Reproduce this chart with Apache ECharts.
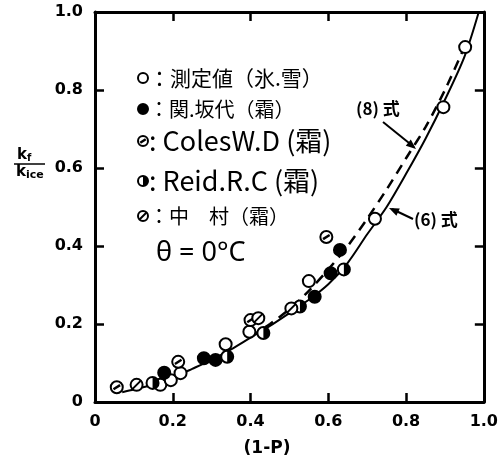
<!DOCTYPE html>
<html>
<head>
<meta charset="utf-8">
<script src="https://cdn.jsdelivr.net/npm/echarts@6/dist/echarts.min.js"></script>
<style>
  html, body { margin: 0; padding: 0; background: #fff; }
  #chart { width: 501px; height: 462px; }
</style>
</head>
<body>
<div id="chart"></div>
<script>
// 測定値 (氷.雪) - open circles
const measured = [[0.168, 0.044], [0.195, 0.056], [0.22, 0.074], [0.336, 0.148], [0.397, 0.18], [0.55, 0.31], [0.72, 0.47], [0.896, 0.756], [0.952, 0.91]]
// 関.坂代 (霜) - filled
const sekiSaka = [[0.178, 0.075], [0.28, 0.112], [0.31, 0.108], [0.565, 0.27], [0.606, 0.33], [0.63, 0.39]]
// Coles W.D (霜)
const coles = [[0.056, 0.038], [0.214, 0.103], [0.4, 0.21], [0.595, 0.423]]
// Reid R.C (霜)
const reid = [[0.148, 0.049], [0.34, 0.116], [0.433, 0.177], [0.527, 0.245], [0.64, 0.34]]
// 中村 (霜)
const nakamura = [[0.107, 0.044], [0.42, 0.215], [0.505, 0.24]]
// (6)式 solid curve
const eq6 = [[0.07, 0.025], [0.1, 0.032], [0.15, 0.045], [0.2, 0.063], [0.25, 0.085], [0.3, 0.108], [0.35, 0.135], [0.4, 0.165], [0.45, 0.195], [0.5, 0.228], [0.55, 0.262], [0.6, 0.302], [0.65, 0.357], [0.7, 0.43], [0.75, 0.5], [0.8, 0.585], [0.85, 0.675], [0.9, 0.775], [0.95, 0.885], [0.987, 1.0]]
// (8)式 dashed curve
const eq8 = [[0.4, 0.168], [0.45, 0.2], [0.5, 0.238], [0.55, 0.285], [0.6, 0.34], [0.65, 0.4], [0.7, 0.47], [0.75, 0.545], [0.8, 0.625], [0.85, 0.705], [0.9, 0.8], [0.95, 0.91]]
const xTicks = [0, 0.2, 0.4, 0.6, 0.8, 1.0]
const yTicks = [0, 0.2, 0.4, 0.6, 0.8, 1.0]

const chart = echarts.init(document.getElementById('chart'))

// 記号の形 (白丸, 黒丸, 斜線, 半黒, 斜線大)
function markerChildren (kind, cx, cy, r) {
  const out = [{
    type: 'circle',
    shape: { cx: cx, cy: cy, r: r },
    style: { fill: kind === 'filled' ? '#000' : '#fff', stroke: '#000', lineWidth: 2 }
  }]
  if (kind === 'coles') {
    out.push({ type: 'line', shape: { x1: cx - r * 0.55, y1: cy + r * 0.35, x2: cx + r * 0.55, y2: cy - r * 0.35 }, style: { stroke: '#000', lineWidth: 2.5 } })
  } else if (kind === 'nakamura') {
    out.push({ type: 'line', shape: { x1: cx - r * 0.75, y1: cy + r * 0.75, x2: cx + r * 0.75, y2: cy - r * 0.75 }, style: { stroke: '#000', lineWidth: 2 } })
  } else if (kind === 'reid') {
    out.push({ type: 'sector', shape: { cx: cx, cy: cy, r0: 0, r: r, startAngle: -Math.PI / 2, endAngle: Math.PI / 2 }, style: { fill: '#000' } })
  }
  return out
}

function pointSeries (name, data, kind) {
  return {
    name: name,
    type: 'custom',
    coordinateSystem: 'cartesian2d',
    encode: { x: 0, y: 1 },
    z: 5,
    data: data,
    renderItem: function (params, api) {
      const p = api.coord([api.value(0), api.value(1)])
      return { type: 'group', children: markerChildren(kind, p[0], p[1], 6) }
    }
  }
}

const tickLabel = function (v) { return v === 0 ? '0' : v.toFixed(1) }
const lblStyle = { color: '#000', fontSize: 16, fontWeight: 'bold', fontFamily: 'DejaVu Sans' }
const lineBlack = { color: '#000', width: 3 }

// 凡例
const legendRows = [
  { kind: 'open', y: 78, text: '：測定値（氷.雪）', font: 'Noto Sans CJK JP', size: 21 },
  { kind: 'filled', y: 109, text: '：関.坂代（霜）', font: 'Noto Sans CJK JP', size: 20 },
  { kind: 'coles', y: 141, text: ': ColesW.D (霜)', font: 'Noto Sans CJK JP', size: 27 },
  { kind: 'reid', y: 181, text: ': Reid.R.C (霜)', font: 'Noto Sans CJK JP', size: 27 },
  { kind: 'nakamura', y: 216, text: '：中　村（霜）', font: 'Noto Sans CJK JP', size: 20 }
]
const graphics = []
legendRows.forEach(function (row) {
  graphics.push({ type: 'group', children: markerChildren(row.kind, 143, row.y, 5) })
  graphics.push({
    type: 'text', x: 149, y: row.y,
    style: { text: row.text, fill: '#000', font: row.size + 'px "' + row.font + '"', verticalAlign: 'middle' }
  })
})
graphics.push({ type: 'text', x: 156, y: 253, style: { text: 'θ = 0°C', fill: '#000', font: '27px "Noto Sans"', verticalAlign: 'middle' } })
// 縦軸名 kf / kice
graphics.push({ type: 'text', x: 17, y: 155, style: { text: 'k', fill: '#000', font: 'bold 15px "DejaVu Sans"', verticalAlign: 'middle' } })
graphics.push({ type: 'text', x: 27, y: 158, style: { text: 'f', fill: '#000', font: 'bold 10px "DejaVu Sans"', verticalAlign: 'middle' } })
graphics.push({ type: 'line', shape: { x1: 14, y1: 164, x2: 45, y2: 164 }, style: { stroke: '#000', lineWidth: 1.5 } })
graphics.push({ type: 'text', x: 16, y: 172, style: { text: 'k', fill: '#000', font: 'bold 15px "DejaVu Sans"', verticalAlign: 'middle' } })
graphics.push({ type: 'text', x: 26, y: 175, style: { text: 'ice', fill: '#000', font: 'bold 11px "DejaVu Sans"', verticalAlign: 'middle' } })
// 横軸名
graphics.push({ type: 'text', x: 267, y: 449, style: { text: '(1-P)', fill: '#000', font: 'bold 17px "DejaVu Sans"', align: 'center', verticalAlign: 'middle' } })
// 式の注記と矢印
graphics.push({ type: 'text', x: 356, y: 109, style: { text: '(8) 式', fill: '#000', font: 'bold 17px "Noto Sans CJK JP"', verticalAlign: 'middle' } })
graphics.push({ type: 'line', shape: { x1: 383, y1: 122, x2: 414, y2: 147 }, style: { stroke: '#000', lineWidth: 2 } })
graphics.push({ type: 'polygon', shape: { points: [[416, 149], [405.8, 145.8], [410.8, 139.6]] }, style: { fill: '#000' } })
graphics.push({ type: 'text', x: 414, y: 220, style: { text: '(6) 式', fill: '#000', font: 'bold 17px "Noto Sans CJK JP"', verticalAlign: 'middle' } })
graphics.push({ type: 'line', shape: { x1: 413, y1: 219, x2: 392, y2: 209 }, style: { stroke: '#000', lineWidth: 2 } })
graphics.push({ type: 'polygon', shape: { points: [[389, 208], [399.8, 208.6], [396.4, 215.8]] }, style: { fill: '#000' } })

function frameAxis (position, showLabel, ticks) {
  return {
    type: 'value', position: position, min: 0, max: 1, interval: 0.2,
    axisLine: { onZero: false, lineStyle: lineBlack },
    axisTick: { inside: true, length: 9, lineStyle: { color: '#000', width: 2.5 } },
    axisLabel: showLabel ? Object.assign({ margin: 12, formatter: tickLabel, customValues: ticks }, lblStyle) : { show: false },
    splitLine: { show: false }
  }
}

chart.setOption({
  animation: false,
  backgroundColor: '#fff',
  grid: { left: 95, right: 13, top: 12, bottom: 60 },
  xAxis: [frameAxis('bottom', true, xTicks), frameAxis('top', false)],
  yAxis: [frameAxis('left', true, yTicks), frameAxis('right', false)],
  series: [
    { name: '(6)式', type: 'line', data: eq6, smooth: 0.3, showSymbol: false, z: 3, lineStyle: { color: '#000', width: 2 } },
    { name: '(8)式', type: 'line', data: eq8, smooth: 0.3, showSymbol: false, z: 3, lineStyle: { color: '#000', width: 2.5, type: [10, 7] } },
    pointSeries('測定値', measured, 'open'),
    pointSeries('関.坂代', sekiSaka, 'filled'),
    pointSeries('Coles W.D', coles, 'coles'),
    pointSeries('Reid R.C', reid, 'reid'),
    pointSeries('中村', nakamura, 'nakamura')
  ],
  graphic: graphics
})
</script>
</body>
</html>
